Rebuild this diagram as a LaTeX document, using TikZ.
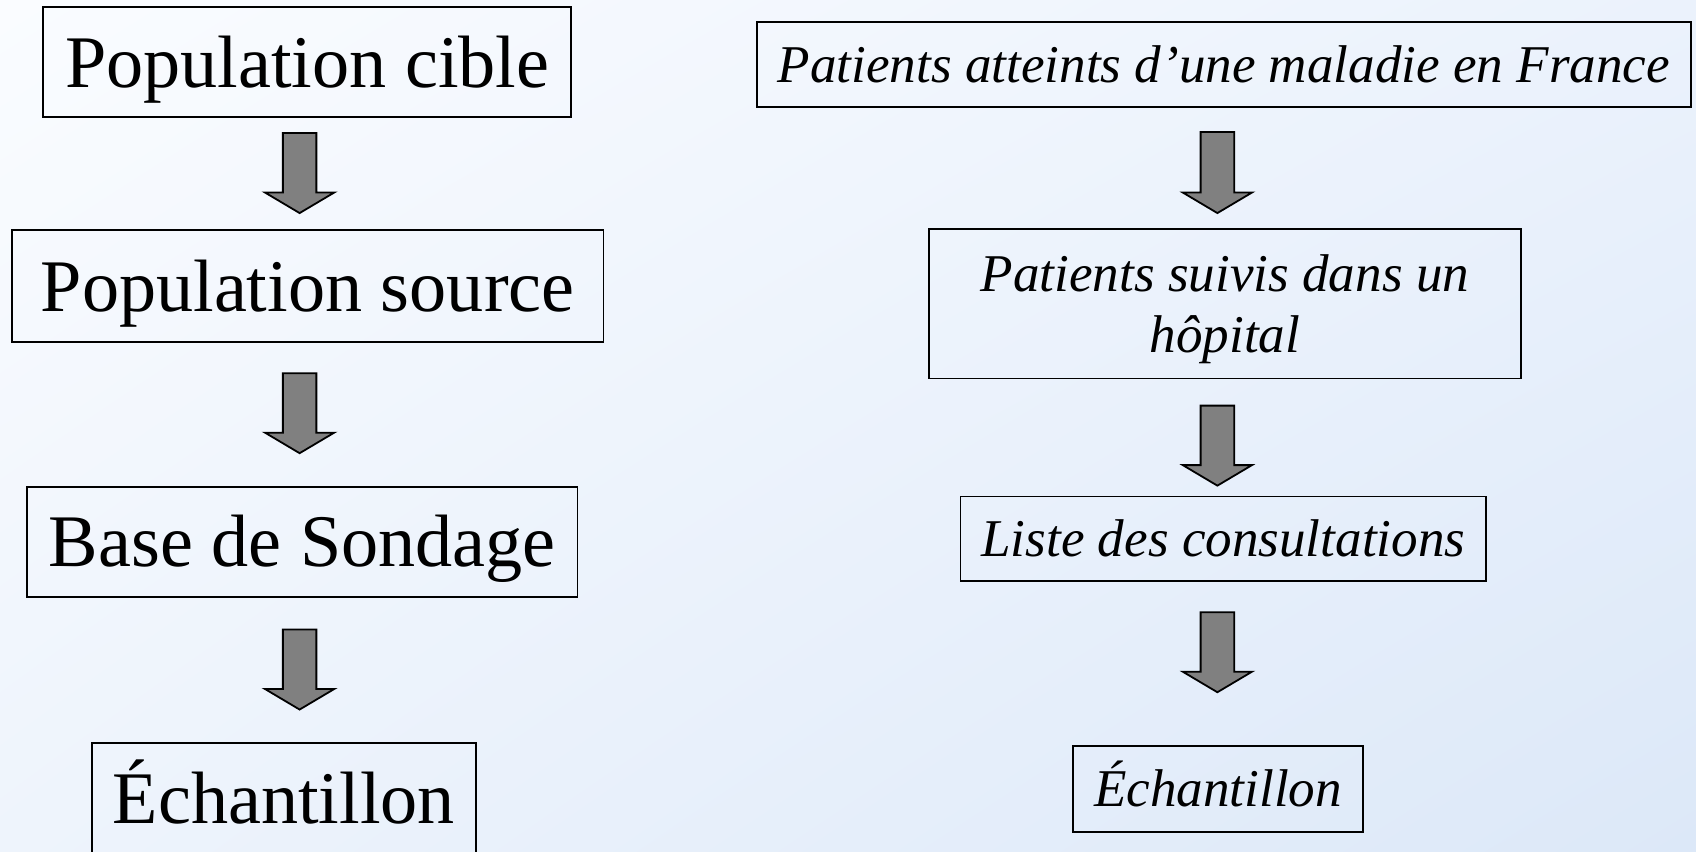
\documentclass[tikz,border=0pt]{standalone}
\usepackage{fontspec}
\setmainfont{Liberation Serif}
\usetikzlibrary{calc,shadings}

% strut with the font's full ascent and descent, so lines sit as in a text frame
\newcommand\fullstrut{\rule[-0.216em]{0pt}{1.107em}}

\definecolor{bgtl}{HTML}{FAFCFF}
\definecolor{bgtr}{HTML}{EBF2FC}
\definecolor{bgbl}{HTML}{EEF4FC}
\definecolor{bgbr}{HTML}{DCE8F8}
\definecolor{arrowgray}{HTML}{808080}

\tikzset{
  framebox/.style 2 args={draw=black, line width=0.9pt, inner sep=0pt,
    minimum width={#1*0.5408pt}, minimum height={#2*0.5408pt}},
  bigtext/.style={font=\fontsize{37.1}{44}\selectfont},
  smalltext/.style={font=\fontsize{26.55}{30.3}\selectfont\itshape, align=center},
  blockarrow/.style={draw=black, fill=arrowgray, line width=0.9pt, line join=miter},
}

% block arrow from coordinate #1 (top of shaft) down to coordinate #2 (tip)
\newcommand\blockarrow[2]{%
  \filldraw[blockarrow]
    ($(#1)+(-15.5,0)$) -- ($(#1)+(15.5,0)$) -- ($(#2)+(15.5,-19)$) --
    ($(#2)+(32,-19)$) -- (#2) -- ($(#2)+(-32,-19)$) -- ($(#2)+(-15.5,-19)$) -- cycle;}

\begin{document}
\begin{tikzpicture}[x=0.5408pt, y=-0.5408pt]
  % page and background
  \useasboundingbox (0,0) rectangle (1568,787);
  \shade[upper left=bgtl, upper right=bgtr, lower left=bgbl, lower right=bgbr]
    (0,0) rectangle (1568,787);

  % left column
  \node[framebox={488}{102}, bigtext] (cible)  at (284,57.3)  {\fullstrut Population cible};
  \node[framebox={547}{103}, bigtext] (source) at (284.5,264.5) {\fullstrut Population source};
  \node[framebox={509}{102}, bigtext] (base)   at (279.5,501) {\fullstrut Base de Sondage};
  \node[framebox={355}{102}, bigtext] (echg)   at (262.5,738) {\fullstrut Échantillon};

  \coordinate (la1) at (277,123); \coordinate (lb1) at (277,197);
  \coordinate (la2) at (277,345); \coordinate (lb2) at (277,419);
  \coordinate (la3) at (277,582); \coordinate (lb3) at (277,656);
  \blockarrow{la1}{lb1}
  \blockarrow{la2}{lb2}
  \blockarrow{la3}{lb3}

  % right column
  \node[framebox={863}{79}, smalltext]  (patients) at (1131.5,59.75)
    {\fullstrut Patients atteints d’une maladie en France};
  \node[framebox={547}{138}, smalltext] (suivis)   at (1132.5,281)
    {\fullstrut Patients suivis dans un\\\fullstrut hôpital};
  \node[framebox={486}{78}, smalltext]  (liste)    at (1131,498)
    {\fullstrut Liste des consultations};
  \node[framebox={268}{79}, smalltext]  (echd)     at (1126,729.5)
    {\fullstrut Échantillon};

  \coordinate (ra1) at (1125.5,122); \coordinate (rb1) at (1125.5,197);
  \coordinate (ra2) at (1125.5,375); \coordinate (rb2) at (1125.5,449);
  \coordinate (ra3) at (1125.5,566); \coordinate (rb3) at (1125.5,640);
  \blockarrow{ra1}{rb1}
  \blockarrow{ra2}{rb2}
  \blockarrow{ra3}{rb3}
\end{tikzpicture}
\end{document}
